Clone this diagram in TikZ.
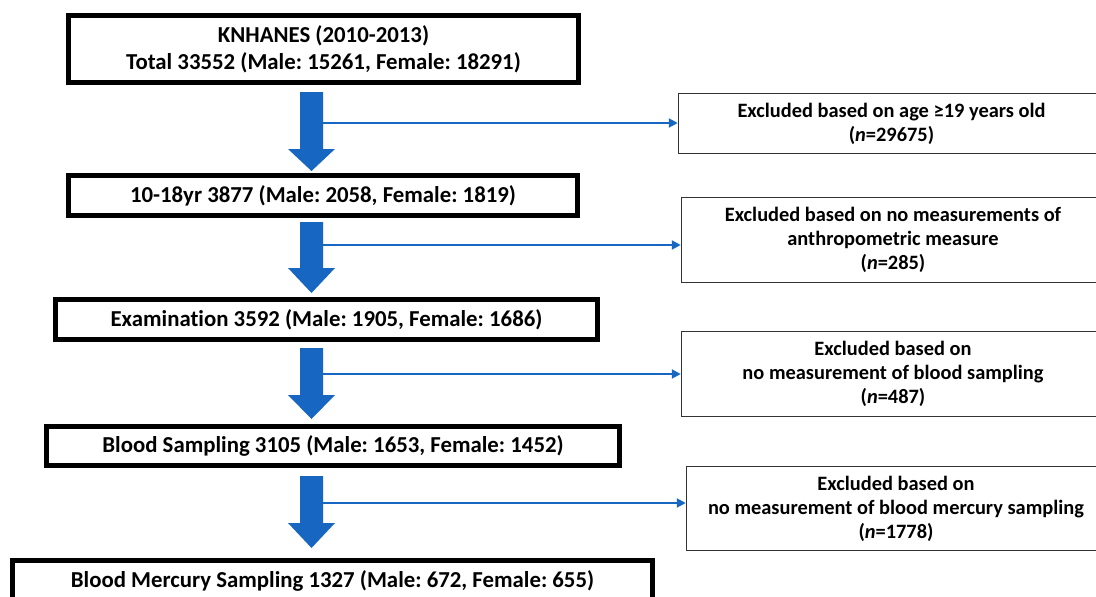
\documentclass[tikz,border=0pt]{standalone}
\usepackage{fontspec}
\setmainfont{Carlito}[Ligatures=NoCommon]
\usetikzlibrary{arrows.meta}
\definecolor{flowblue}{RGB}{22,102,194}
\newcommand\blockarr[3]{\fill[blockarrow] (300,#1) -- (323,#1) -- (323,#2) -- (335,#2) -- (311.5,#3) -- (288,#2) -- (300,#2) -- cycle;}
\frenchspacing
\begin{document}
\begin{tikzpicture}[x=1pt,y=-1pt,
  mainbox/.style={draw=black, line width=5pt, align=center, inner sep=0pt,
    font=\bfseries\fontsize{22.8}{27}\selectfont},
  exbox/.style={draw=black!80, line width=1.5pt, align=center, inner sep=0pt,
    font=\bfseries\fontsize{20.4}{24}\selectfont},
  conn/.style={draw=flowblue, line width=2pt, -{Triangle[length=9pt,width=9pt]}},
  blockarrow/.style={fill=flowblue}]
\useasboundingbox[fill=white] (0,0) rectangle (1096,597);
\clip (0,0) rectangle (1096,597);

% main boxes
\node[mainbox, minimum width=510pt, minimum height=67pt] (b1) at (323.5,49)
  {KNHANES (2010-2013)\\Total 33552 (Male: 15261, Female: 18291)};
\node[mainbox, minimum width=509pt, minimum height=40pt] (b2) at (323,195.5)
  {10-18yr 3877 (Male: 2058, Female: 1819)};
\node[mainbox, minimum width=542pt, minimum height=40pt] (b3) at (326.5,319.5)
  {Examination 3592 (Male: 1905, Female: 1686)};
\node[mainbox, minimum width=573pt, minimum height=39pt] (b4) at (333,446)
  {Blood Sampling 3105 (Male: 1653, Female: 1452)};
\node[mainbox, minimum width=640pt, minimum height=41pt] (b5) at (332.5,581)
  {Blood Mercury Sampling 1327 (Male: 672, Female: 655)};

% exclusion boxes
\node[exbox, minimum width=426pt, minimum height=60pt] (e1) at (891.5,123.5)
  {Excluded based on age ≥19 years old\\(\textit{n}=29675)};
\node[exbox, minimum width=423pt, minimum height=85pt] (e2) at (893,240)
  {Excluded based on no measurements of\\anthropometric measure\\(\textit{n}=285)};
\node[exbox, minimum width=423pt, minimum height=85pt] (e3) at (893,374)
  {Excluded based on\\no measurement of blood sampling\\(\textit{n}=487)};
\node[exbox, minimum width=419pt, minimum height=84pt] (e4) at (896,508.5)
  {Excluded based on\\no measurement of blood mercury sampling\\(\textit{n}=1778)};

% block arrows
\blockarr{92}{149}{171}
\blockarr{222}{268}{293}
\blockarr{348}{395}{419}
\blockarr{476}{523}{548}

% connectors to exclusion boxes
\coordinate (c1) at (323,123);
\coordinate (c2) at (323,245);
\coordinate (c3) at (323,374);
\coordinate (c4) at (323,503);
\draw[conn] (c1) -- (c1 -| e1.west);
\draw[conn] (c2) -- (c2 -| e2.west);
\draw[conn] (c3) -- (c3 -| e3.west);
\draw[conn] (c4) -- (c4 -| e4.west);
\end{tikzpicture}
\end{document}
